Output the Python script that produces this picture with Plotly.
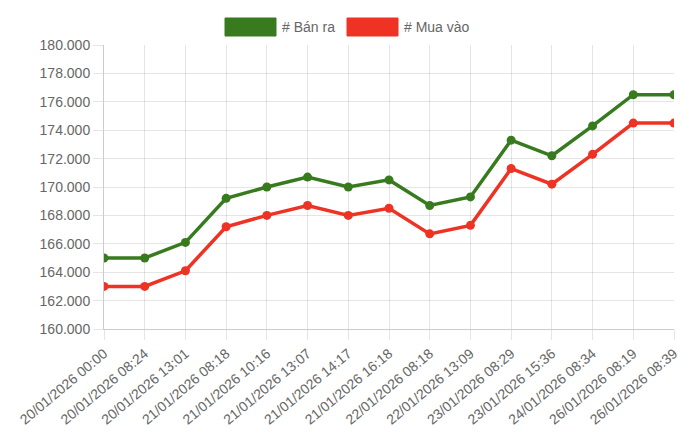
import plotly.graph_objects as go

# ── Dados ────────────────────────────────────────────────────────────────
labels = [
    "20/01/2026 00:00", "20/01/2026 08:24", "20/01/2026 13:01",
    "21/01/2026 08:18", "21/01/2026 10:16", "21/01/2026 13:07",
    "21/01/2026 14:17", "21/01/2026 16:18", "22/01/2026 08:18",
    "22/01/2026 13:09", "23/01/2026 08:29", "23/01/2026 15:36",
    "24/01/2026 08:34", "26/01/2026 08:19", "26/01/2026 08:39",
]
ban_ra = [165000, 165000, 166100, 169200, 170000, 170700, 170000, 170500,
          168700, 169300, 173300, 172200, 174300, 176500, 176500]
mua_vao = [163000, 163000, 164100, 167200, 168000, 168700, 168000, 168500,
           166700, 167300, 171300, 170200, 172300, 174500, 174500]
y_ticks = [160000, 162000, 164000, 166000, 168000, 170000,
           172000, 174000, 176000, 178000, 180000]

GREEN = "#377b1e"
RED = "#ee3325"
TEXT = "#666666"
GRID = "rgba(0,0,0,0.1)"
FONT = "Liberation Sans, Arial, sans-serif"

# a página tem margem de 8px no body -> coordenadas da figura = página - 8
OFF = 8
W, H = 692, 422
L, R, T, B = 104 - OFF, 26, 45 - OFF, 101


def px(x):
    return (x - OFF - L) / (W - L - R)


def py(y):
    return (H - B - (y - OFF)) / (H - T - B)


fig = go.Figure()
for name, vals, color in [("# Bán ra", ban_ra, GREEN), ("# Mua vào", mua_vao, RED)]:
    fig.add_trace(go.Scatter(
        x=labels, y=vals, name=name, mode="lines+markers",
        line=dict(color=color, width=3.5),
        marker=dict(color=color, size=9),
        showlegend=False,
    ))

# legenda estilo Chart.js (caixas retangulares)
shapes, annotations = [], []
for x0, text, color in [(225, "# Bán ra", GREEN), (347, "# Mua vào", RED)]:
    shapes.append(dict(type="rect", xref="paper", yref="paper",
                       x0=px(x0), x1=px(x0 + 51), y0=py(36), y1=py(18),
                       fillcolor=color, line=dict(color=color, width=1)))
    annotations.append(dict(xref="paper", yref="paper", x=px(x0 + 55), y=py(27),
                            text=text, showarrow=False, xanchor="left", yanchor="middle",
                            font=dict(size=14, color=TEXT, family=FONT)))

fig.update_layout(
    width=W, height=H,
    margin=dict(l=L, r=R, t=T, b=B),
    paper_bgcolor="white", plot_bgcolor="white",
    separators=",.",
    font=dict(family=FONT, size=14, color=TEXT),
    shapes=shapes, annotations=annotations,
)
fig.update_xaxes(
    type="category", range=[0, len(labels) - 1], automargin=False,
    showgrid=True, gridcolor=GRID, gridwidth=1,
    ticks="outside", ticklen=10, tickcolor=GRID,
    tickangle=-40, tickfont=dict(size=14, color=TEXT),
    showline=True, linecolor="rgba(0,0,0,0.2)", zeroline=False,
)
fig.update_yaxes(
    range=[160000, 180000], tickvals=y_ticks, tickformat=",d", automargin=False,
    showgrid=True, gridcolor=GRID, gridwidth=1,
    ticks="outside", ticklen=10, tickcolor=GRID,
    tickfont=dict(size=14, color=TEXT),
    showline=True, linecolor="rgba(0,0,0,0.2)", zeroline=False,
)

fig.write_html("out.html")
